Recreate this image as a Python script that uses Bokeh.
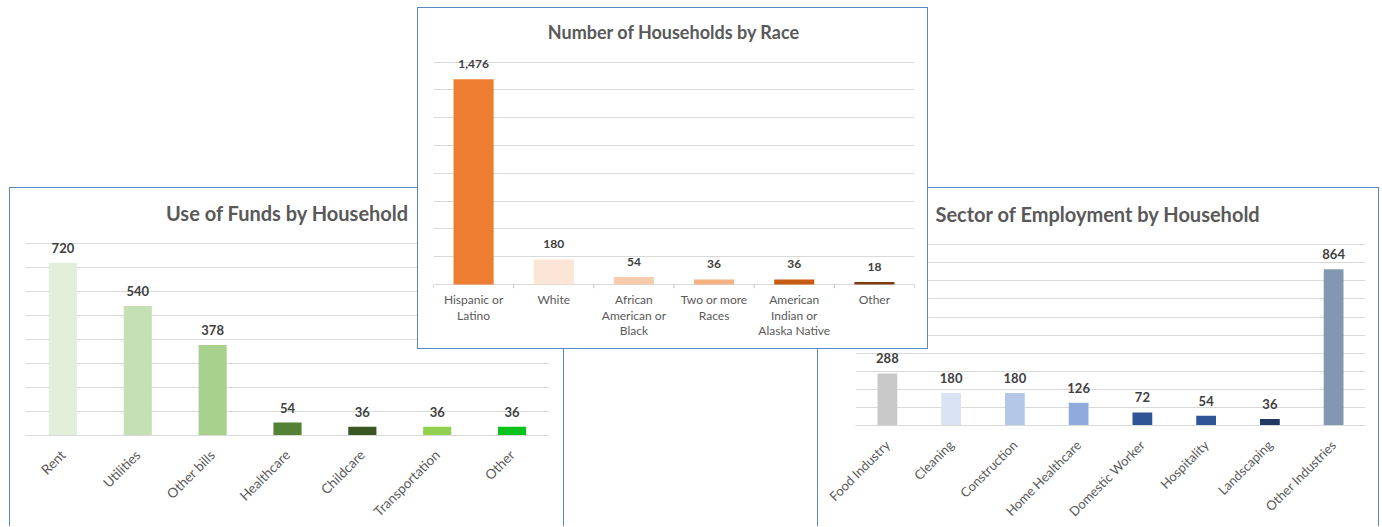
import math
from bokeh.plotting import figure
from bokeh.models import (FactorRange, Range1d, SingleIntervalTicker, Title, CategoricalAxis,
                          CustomJSTickFormatter)
from bokeh.core.properties import value
from bokeh.embed import file_html
from bokeh.resources import INLINE

# ---------------- data ----------------
funds_cats = ["Rent", "Utilities", "Other bills", "Healthcare", "Childcare", "Transportation", "Other"]
funds_vals = [720, 540, 378, 54, 36, 36, 36]
funds_colors = ["#e2efda", "#c5e0b4", "#a9d18e", "#548235", "#385723", "#92d050", "#0ac21c"]

race_cats = ["Hispanic or Latino", "White", "African American or Black", "Two or more Races",
             "American Indian or Alaska Native", "Other"]
race_tick_labels = ["Hispanic or\nLatino", "White", "African\nAmerican or\nBlack", "Two or more\nRaces",
                    "American\nIndian or\nAlaska Native", "Other"]
race_vals = [1476, 180, 54, 36, 36, 18]
race_colors = ["#ed7d31", "#fbe5d6", "#f8cbad", "#f4b183", "#c55a11", "#843c0c"]

sector_cats = ["Food Industry", "Cleaning", "Construction", "Home Healthcare", "Domestic Worker",
               "Hospitality", "Landscaping", "Other Industries"]
sector_vals = [288, 180, 180, 126, 72, 54, 36, 864]
sector_colors = ["#c9c9c9", "#dae3f3", "#b4c7e7", "#8faadc", "#2f5597", "#2f5597", "#203864", "#8497b0"]

FONT = "Lato"
BORDER = "#5a87c6"
GRID = "#d9d9d9"
LABEL = "#595959"


def style_axis(ax, size, standoff, line_color=None, line_height=None):
    ax.axis_line_color = line_color
    ax.major_tick_line_color = None
    ax.major_tick_out = 0
    ax.major_tick_in = 0
    ax.minor_tick_line_color = None
    ax.major_label_standoff = standoff
    ax.major_label_text_font = FONT
    ax.major_label_text_font_size = f"{size}px"
    ax.major_label_text_color = LABEL
    if line_height is not None:
        ax.major_label_text_line_height = line_height


def make_chart(cats, vals, colors, title, y_start, y_end, y_step, w, h, mbl, mbr, mbt, mbb,
               bar_w, title_size, title_align, title_offset, title_standoff, val_size,
               css_left, css_top, z, cut_bottom, with_axis):
    styles = {"position": "absolute", "left": f"{css_left}px", "top": f"{css_top}px",
              "border": f"1px solid {BORDER}", "background": "white", "z-index": str(z)}
    if cut_bottom:
        styles["border-bottom"] = "none"
    p = figure(x_range=FactorRange(*cats), y_range=Range1d(y_start, y_end), width=w, height=h,
               output_backend="svg", toolbar_location=None, y_axis_location=None,
               x_axis_location="below" if with_axis else None,
               min_border_left=mbl, min_border_right=mbr, min_border_top=mbt, min_border_bottom=mbb,
               styles=styles)
    p.left = []
    p.right = []
    if not with_axis:
        p.below = []
    p.title = Title(text=title, align=title_align, offset=title_offset, text_font=FONT,
                    text_font_size=f"{title_size}px", text_font_style="bold", text_color=LABEL,
                    standoff=title_standoff, vertical_align="top")
    p.outline_line_color = None
    p.background_fill_color = "white"
    p.border_fill_color = "white"
    p.xgrid.visible = False
    p.ygrid.ticker = SingleIntervalTicker(interval=y_step)
    p.ygrid.grid_line_color = GRID
    p.ygrid.grid_line_width = 1

    p.vbar(x=cats, top=vals, width=bar_w, bottom=0, fill_color=colors, line_color=None)
    p.text(x=cats, y=vals, text=[f"{v:,}" for v in vals], text_align="center",
           text_baseline="alphabetic", y_offset=-15, text_font=value(FONT), text_font_style="bold",
           text_font_size=f"{val_size}px", text_color="#404040")
    return p


# Use of Funds (left)
p_funds = make_chart(funds_cats, funds_vals, funds_colors, "Use of Funds by Household",
                     0, 826, 100, 555, 339, 15, 16, 49, 89, 0.376, 20, "center", 0, 22, 13,
                     9, 187, 1, True, True)
p_funds.xaxis.major_label_orientation = math.pi / 4
style_axis(p_funds.xaxis[0], 13.5, 17, GRID, 1.0)

# Sector of Employment (right)
p_sector = make_chart(sector_cats, sector_vals, sector_colors, "Sector of Employment by Household",
                      0, 1029, 100, 562, 339, 37, 15, 51, 99, 0.31, 20, "left", 80, 24, 13,
                      817, 187, 2, True, True)
p_sector.xaxis.major_label_orientation = math.pi / 4
style_axis(p_sector.xaxis[0], 13, 17, GRID, 1.0)

# Number of Households by Race (middle, on top)
p_race = make_chart(race_cats, race_vals, race_colors, "Number of Households by Race",
                    -29, 1640, 200, 511, 342, 15, 15, 48, 62, 0.5, 18, "center", 0, 23, 12,
                    417, 7, 3, False, False)
edges = list(range(len(race_cats) + 1))
p_race.segment(x0=edges, y0=[0] * len(edges), x1=edges, y1=[-29] * len(edges),
               line_color="#bfbfbf", line_width=1)
lines = [lab.split("\n") for lab in race_tick_labels]
standoffs = [3, -2, -3]
for i in range(max(len(l) for l in lines)):
    txt = [l[i] if i < len(l) else "" for l in lines]
    ax = CategoricalAxis(formatter=CustomJSTickFormatter(
        args=dict(labels=dict(zip(race_cats, txt))),
        code="const s = labels[tick]; return s === undefined ? '' : s;"))
    style_axis(ax, 12, standoffs[i], None)
    p_race.add_layout(ax, "below")

open("out.html", "w").write(file_html([p_funds, p_sector, p_race], INLINE))
